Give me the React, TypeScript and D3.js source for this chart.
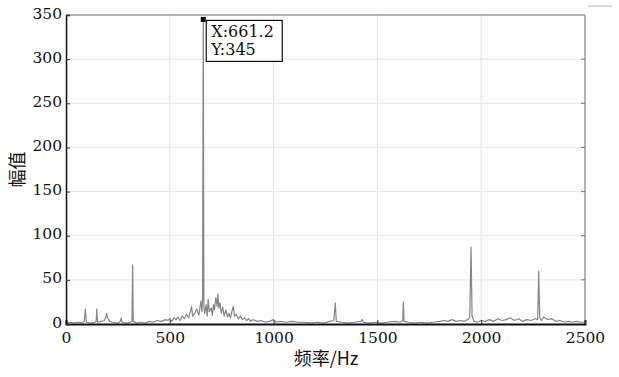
import React, { useRef, useEffect } from 'react';
import * as d3 from 'd3';

// 频谱数据
const freqs = [
  0, 20, 40, 60, 80, 88, 93, 98, 120, 140, 145, 148, 152, 170, 185, 192, 196, 200, 210, 225,
  250, 262, 266, 270, 290, 310, 318, 321, 324, 340, 360, 380, 400, 420, 440, 460, 480,
  490, 500, 510, 520, 530, 540, 550, 560, 570, 580, 590, 600, 605, 610, 620, 630, 640, 650,
  655, 658, 661.2, 664, 668, 675, 680, 685, 690, 700, 705, 710, 715, 722, 728, 732, 736, 742,
  748, 755, 762, 770, 778, 785, 792, 800, 806, 812, 820, 830, 840, 850, 860, 870, 880, 890, 900,
  920, 940, 960, 980, 1000, 1010, 1030, 1060, 1090, 1120, 1150, 1180, 1210, 1240, 1270, 1290,
  1297, 1302, 1330, 1360, 1390, 1420, 1427, 1432, 1460, 1490, 1520, 1550, 1580, 1610, 1622,
  1625, 1628, 1650, 1680, 1710, 1740, 1770, 1800, 1820, 1840, 1860, 1880, 1900, 1920, 1935,
  1945, 1951, 1956, 1965, 1980, 2000, 2020, 2040, 2060, 2080, 2100, 2120, 2140, 2160, 2180,
  2200, 2220, 2240, 2260, 2272, 2277, 2282, 2290, 2300, 2320, 2340, 2360, 2380, 2400, 2420,
  2440, 2460, 2480, 2500
];

const amps = [
  1, 2, 1, 2, 1, 3, 17, 2, 1, 2, 3, 17, 2, 3, 4, 8, 12, 7, 3, 2,
  1, 3, 7, 2, 1, 2, 3, 67, 3, 1, 2, 1, 3, 2, 4, 3, 5,
  4, 6, 3, 7, 5, 8, 4, 9, 6, 11, 7, 15, 20, 9, 12, 17, 10, 26,
  14, 30, 345, 20, 12, 22, 9, 28, 14, 18, 10, 22, 16, 30, 20, 34, 18, 24,
  12, 19, 9, 16, 8, 12, 7, 15, 20, 9, 11, 6, 9, 5, 7, 4, 6, 3, 5,
  3, 4, 2, 3, 5, 2, 3, 2, 3, 2, 2, 1, 2, 1, 3, 4,
  24, 3, 2, 1, 2, 3, 5, 2, 1, 2, 1, 2, 3, 2, 4,
  25, 3, 2, 1, 2, 1, 2, 3, 4, 3, 5, 3, 4, 3, 5,
  8, 87, 9, 3, 2, 4, 3, 5, 3, 6, 4, 5, 7, 4, 6,
  3, 5, 4, 6, 5, 60, 7, 4, 8, 5, 6, 3, 4, 2, 3,
  2, 3, 2, 2
];

const xTicks = [0, 500, 1000, 1500, 2000, 2500];
const yTicks = [0, 50, 100, 150, 200, 250, 300, 350];

const peakX = 661.2;
const peakY = 345;

const App: React.FC = () => {
  const svgRef = useRef<SVGSVGElement>(null);
  const width = 619;
  const height = 377;

  useEffect(() => {
    if (!svgRef.current) return;
    const svg = d3.select(svgRef.current);
    svg.selectAll("*").remove();

    const margin = { top: 15, right: 34, bottom: 53, left: 66 };
    const innerWidth = width - margin.left - margin.right;
    const innerHeight = height - margin.top - margin.bottom;
    const font = "'DejaVu Serif', 'Liberation Serif', serif";

    const xScale = d3.scaleLinear().domain([0, 2500]).range([0, innerWidth]);
    const yScale = d3.scaleLinear().domain([0, 350]).range([innerHeight, 0]);

    const g = svg.append("g")
      .attr("transform", `translate(${margin.left},${margin.top})`);

    g.append("rect")
      .attr("width", innerWidth)
      .attr("height", innerHeight)
      .attr("fill", "#fdfdfd");

    // 网格
    xTicks.slice(1, -1).forEach(t => {
      g.append("line")
        .attr("x1", xScale(t)).attr("x2", xScale(t))
        .attr("y1", 0).attr("y2", innerHeight)
        .attr("stroke", "#e2e2e2").attr("stroke-width", 1);
    });
    yTicks.slice(1, -1).forEach(t => {
      g.append("line")
        .attr("x1", 0).attr("x2", innerWidth)
        .attr("y1", yScale(t)).attr("y2", yScale(t))
        .attr("stroke", "#e8e8e8").attr("stroke-width", 1);
    });

    // 频谱曲线
    const points = freqs.map((f, i) => [f, amps[i]] as [number, number]);
    const line = d3.line<[number, number]>()
      .x(d => xScale(d[0]))
      .y(d => yScale(d[1]));

    g.append("path")
      .datum(points)
      .attr("d", line)
      .attr("fill", "none")
      .attr("stroke", "#858585")
      .attr("stroke-width", 1.2)
      .attr("stroke-linejoin", "round");

    // 边框（上、右为灰色）
    g.append("line")
      .attr("x1", 0).attr("x2", innerWidth).attr("y1", 0).attr("y2", 0)
      .attr("stroke", "#9a9a9a").attr("stroke-width", 1.5);
    g.append("line")
      .attr("x1", innerWidth).attr("x2", innerWidth).attr("y1", 0).attr("y2", innerHeight)
      .attr("stroke", "#9a9a9a").attr("stroke-width", 1.5);

    // 坐标轴
    const xAxis = d3.axisBottom(xScale).tickValues(xTicks).tickSize(-4).tickFormat(d => `${d}`);
    const gx = g.append("g")
      .attr("transform", `translate(0,${innerHeight})`)
      .call(xAxis);
    gx.select(".domain").attr("stroke", "#111").attr("stroke-width", 2);
    gx.selectAll(".tick line").attr("stroke", "#333");
    gx.selectAll("text")
      .attr("font-family", font)
      .attr("font-size", "15.5px")
      .attr("fill", "#111")
      .attr("dy", "1.05em");

    const yAxis = d3.axisLeft(yScale).tickValues(yTicks).tickSize(-4).tickFormat(d => `${d}`);
    const gy = g.append("g").call(yAxis);
    gy.select(".domain").attr("stroke", "#111").attr("stroke-width", 1.5);
    gy.selectAll(".tick line").attr("stroke", "#333");
    gy.selectAll("text")
      .attr("font-family", font)
      .attr("font-size", "15.5px")
      .attr("fill", "#111")
      .attr("x", -4)
      .attr("dy", "0.2em");

    // 右侧刻度
    yTicks.slice(1, -1).forEach(t => {
      g.append("line")
        .attr("x1", innerWidth - 4).attr("x2", innerWidth)
        .attr("y1", yScale(t)).attr("y2", yScale(t))
        .attr("stroke", "#777");
    });

    // 数据提示
    const px = xScale(peakX);
    const py = yScale(peakY);
    g.append("rect")
      .attr("x", px - 2.5).attr("y", py - 2.5)
      .attr("width", 5).attr("height", 5)
      .attr("fill", "#000");

    const tip = g.append("g").attr("transform", `translate(${px + 3},${py + 1})`);
    tip.append("rect")
      .attr("width", 76).attr("height", 41)
      .attr("fill", "#fff")
      .attr("stroke", "#111")
      .attr("stroke-width", 1.2);
    tip.append("text")
      .attr("x", 5).attr("y", 17)
      .attr("font-family", font).attr("font-size", "16px").attr("fill", "#111")
      .text(`X:${peakX}`);
    tip.append("text")
      .attr("x", 5).attr("y", 35)
      .attr("font-family", font).attr("font-size", "16px").attr("fill", "#111")
      .text(`Y:${peakY}`);

    // 轴标题
    svg.append("text")
      .attr("transform", `translate(24, ${margin.top + innerHeight / 2}) rotate(-90)`)
      .attr("text-anchor", "middle")
      .attr("font-family", "'Noto Sans CJK SC', sans-serif")
      .attr("font-size", "18px")
      .attr("fill", "#111")
      .text("幅值");

    svg.append("text")
      .attr("x", 326)
      .attr("y", 365)
      .attr("text-anchor", "middle")
      .attr("font-family", "'Noto Sans CJK SC', sans-serif")
      .attr("font-size", "18px")
      .attr("fill", "#111")
      .text("频率/Hz");

    // 右上角小线段
    svg.append("line")
      .attr("x1", 588).attr("x2", 612).attr("y1", 6).attr("y2", 6)
      .attr("stroke", "#bbb").attr("stroke-width", 1);
  }, []);

  return (
    <div style={{ position: 'absolute', left: 0, top: 0 }}>
      <svg ref={svgRef} width={width} height={height} style={{ display: 'block', background: '#fff' }} />
    </div>
  );
};

export default App;
